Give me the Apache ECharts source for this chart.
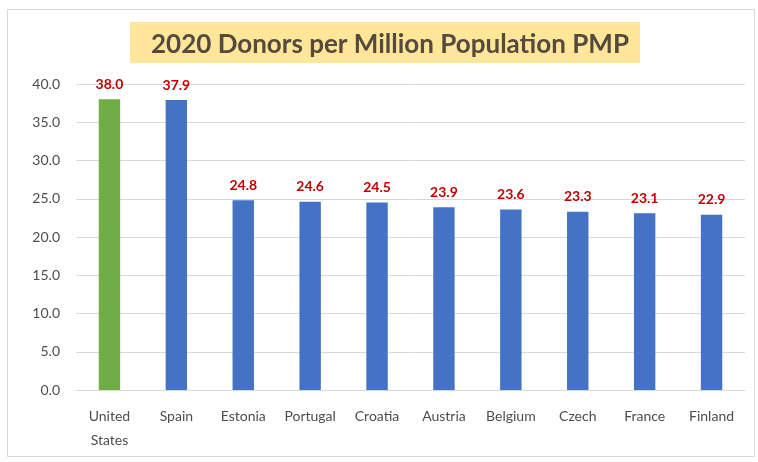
<!DOCTYPE html>
<html><head><meta charset="utf-8">
<script src="https://cdn.jsdelivr.net/npm/echarts@6/dist/echarts.min.js"></script>
<style>html,body{margin:0;padding:0;background:#fff}#c{width:758px;height:462px}</style>
</head><body><div id="c"></div>
<script>
const categories = ['United\nStates','Spain','Estonia','Portugal','Croatia','Austria','Belgium','Czech','France','Finland'];
const values = [38.0, 37.9, 24.8, 24.6, 24.5, 23.9, 23.6, 23.3, 23.1, 22.9];
const barColors = ['#70AD47','#4472C4','#4472C4','#4472C4','#4472C4','#4472C4','#4472C4','#4472C4','#4472C4','#4472C4'];
const titleText = '2020 Donors per Million Population PMP';

const chart = echarts.init(document.getElementById('c'));
chart.setOption({
  animation: false,
  textStyle: { fontFamily: 'Lato' },
  graphic: [
    { type: 'rect', shape: { x: 7.5, y: 9.5, width: 747, height: 447 }, style: { fill: 'none', stroke: '#d9d9d9', lineWidth: 1 }, z: -1 },
    { type: 'rect', shape: { x: 130, y: 22, width: 510, height: 41 }, style: { fill: '#FFE699' }, z: -1 }
  ],
  title: {
    text: titleText, left: 385, top: 27, textAlign: 'center',
    textStyle: { fontFamily: 'Lato', fontSize: 26, fontWeight: 'bold', color: '#544a3e' }
  },
  grid: { left: 76, right: 13, top: 84, bottom: 72 },
  xAxis: {
    type: 'category', data: categories,
    axisLine: { lineStyle: { color: '#d9d9d9' } },
    axisTick: { show: false },
    axisLabel: { color: '#4d4d4d', fontSize: 14, lineHeight: 24, margin: 14, interval: 0 }
  },
  yAxis: {
    type: 'value', min: 0, max: 40, interval: 5,
    axisLine: { show: false }, axisTick: { show: false },
    splitLine: { lineStyle: { color: '#d9d9d9' } },
    axisLabel: { color: '#4d4d4d', fontSize: 14, margin: 16, formatter: v => v.toFixed(1) }
  },
  series: [{
    type: 'bar', barWidth: '32%',
    data: values.map((v, i) => ({ value: v, itemStyle: { color: barColors[i] } })),
    label: { show: true, position: 'top', distance: 8, color: '#C00000', fontWeight: 'bold', fontSize: 14, formatter: p => p.value.toFixed(1) }
  }]
});
</script></body></html>
